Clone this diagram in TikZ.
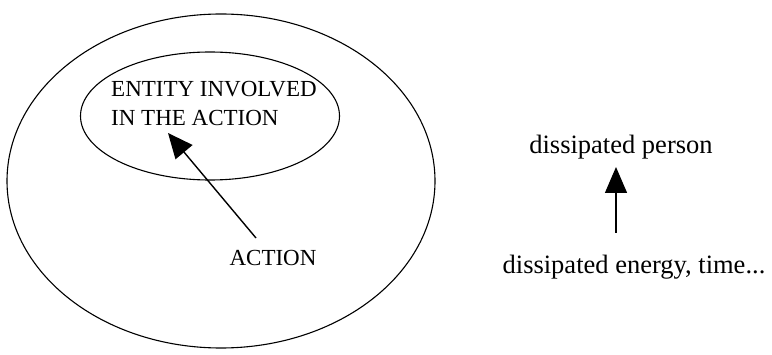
\documentclass[tikz,border=0pt]{standalone}
\usepackage{fontspec}
\setmainfont{Liberation Serif}
\usetikzlibrary{arrows.meta,shapes.geometric}
\begin{document}
\begin{tikzpicture}[x=1pt,y=1pt,
  oval/.style={draw,ellipse,line width=1.1pt,inner sep=0pt},
  caps/.style={font=\fontsize{23}{29}\selectfont,inner sep=0pt},
  lower/.style={font=\fontsize{26.5}{30}\selectfont,inner sep=0pt},
  bigarrow/.style={line width=1.4pt,-{Triangle[length=25pt,width=22pt]}}]
\useasboundingbox (0,0) rectangle (772,354);
\node[oval,minimum width=428pt,minimum height=334pt] (outer) at (221,173) {};
\node[oval,minimum width=259pt,minimum height=128pt] (inner) at (210,238) {};
\node[caps,align=left,anchor=west] (entity) at (111,250.5) {ENTITY INVOLVED\\IN THE ACTION};
\node[caps] (action) at (273,96) {ACTION};
\coordinate (a1) at (256,116);
\coordinate (a2) at (168,221);
\draw[bigarrow] (a1) -- (a2);
\node[lower] (person) at (621,207) {dissipated person};
\node[lower] (energy) at (634,87) {dissipated energy, time...};
\coordinate (b1) at (616,121);
\coordinate (b2) at (616,187);
\draw[bigarrow,-{Triangle[length=26pt,width=22pt]}] (b1) -- (b2);
\end{tikzpicture}
\end{document}
